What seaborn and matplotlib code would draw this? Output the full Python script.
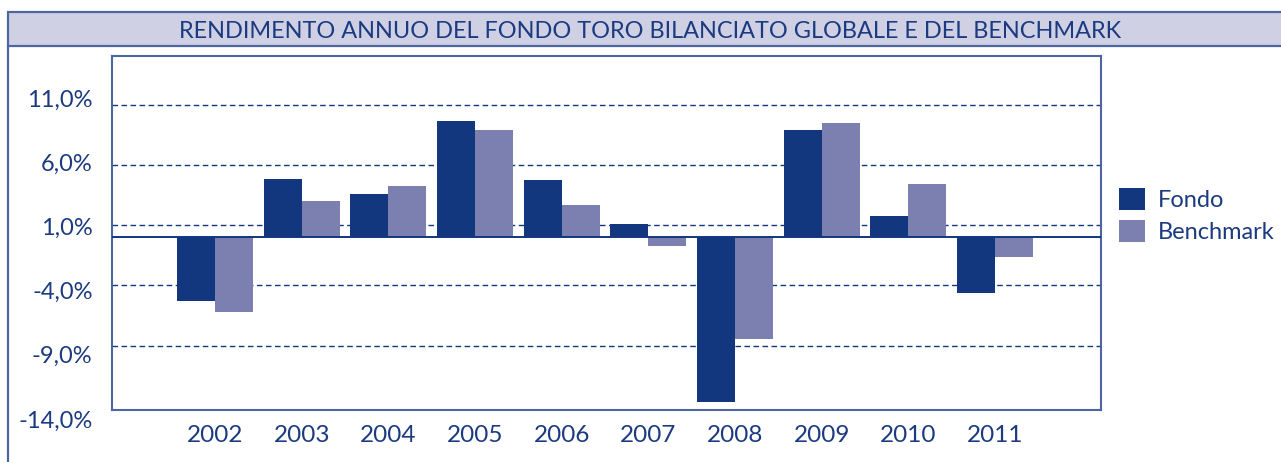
import pandas as pd
import seaborn as sns
import matplotlib.pyplot as plt
from matplotlib.patches import Rectangle
from matplotlib.lines import Line2D

# values
anni = ["2002", "2003", "2004", "2005", "2006", "2007", "2008", "2009", "2010", "2011"]
fondo = [-5.26, 4.85, 3.6, 9.65, 4.76, 1.12, -13.69, 8.9, 1.78, -4.6]
benchmark = [-6.17, 3.02, 4.27, 8.9, 2.69, -0.7, -8.41, 9.49, 4.43, -1.62]
tick_values = [11, 6, 1, -4, -9, -14]
tick_labels = ["11,0%", "6,0%", "1,0%", "-4,0%", "-9,0%", "-14,0%"]
titolo = "RENDIMENTO ANNUO DEL FONDO TORO BILANCIATO GLOBALE E DEL BENCHMARK"

navy = "#12377f"
lilla = "#7b80b1"
testo = "#1b3a80"
bordo = "#4d65a0"

df = pd.DataFrame({
    "Anno": anni * 2,
    "Rendimento": fondo + benchmark,
    "Serie": ["Fondo"] * len(anni) + ["Benchmark"] * len(anni),
})

sns.set_theme(style="white")
plt.rcParams["font.family"] = ["Lato", "DejaVu Sans"]

fig = plt.figure(figsize=(12.81, 4.62), dpi=100)
left, right, top, bottom = 112 / 1281, 1101 / 1281, 1 - 55.7 / 462, 1 - 410 / 462
ax = fig.add_axes([left, bottom, right - left, top - bottom])

sns.barplot(data=df, x="Anno", y="Rendimento", hue="Serie",
            palette=[navy, lilla], width=0.877, saturation=1,
            edgecolor="none", linewidth=0, ax=ax)

ax.set_xlim(-1.188, 10.223)
ax.set_ylim(-14.34, 15.07)
ax.set_xlabel("")
ax.set_ylabel("")

# dashed gridlines at the tick values, solid zero line
for v in tick_values[:-1]:
    ax.axhline(v, color=navy, linestyle=(0, (4, 2.5)), linewidth=1.0, zorder=0)
ax.axhline(0, color=navy, linewidth=1.4, zorder=3)

ax.set_yticks([])
ax.tick_params(axis="x", length=0, pad=11, labelsize=17.5, labelcolor=testo)
for s in ax.spines.values():
    s.set_color(bordo)
    s.set_linewidth(1.5)

# y labels sit on their own scale in the original, slightly off the gridlines,
# so they get a transparent axes of their own that reaches a bit lower
lab_bottom = 1 - 430 / 462
ax2 = fig.add_axes([left, lab_bottom, right - left, top - lab_bottom])
ax2.patch.set_visible(False)
ax2.set_yticks(tick_values)
ax2.set_yticklabels(tick_labels)
ax2.set_ylim(-14.857, 14.29)
ax2.set_xticks([])
ax2.tick_params(axis="y", length=0, pad=14, labelsize=17, labelcolor=testo)
for s in ax2.spines.values():
    s.set_visible(False)
ax2.grid(False)

# legend
handles, labels = ax.get_legend_handles_labels()
ax.legend_.remove()
fig.legend(handles, labels, loc="upper left",
           bbox_to_anchor=(1119 / 1281, 1 - 188 / 462),
           frameon=False, borderpad=0, borderaxespad=0,
           handlelength=1.1, handleheight=1.07, handletextpad=0.55,
           labelspacing=0.36, fontsize=17, labelcolor=testo)

# title bar
fig.patches.append(Rectangle((7.5 / 1281, 1 - 45.7 / 462), 1.0, 33.4 / 462,
                             transform=fig.transFigure, facecolor="#cfd0e4",
                             edgecolor=bordo, linewidth=1.6, zorder=0))
fig.lines.append(Line2D([7.5 / 1281, 7.5 / 1281], [0, 1 - 45.7 / 462],
                        transform=fig.transFigure, color=bordo, linewidth=1.6))
fig.text(650.5 / 1281, 1 - 37.7 / 462, titolo, ha="center", va="baseline",
         fontsize=16.9, color=testo)

fig.savefig("out.png", dpi=100)
